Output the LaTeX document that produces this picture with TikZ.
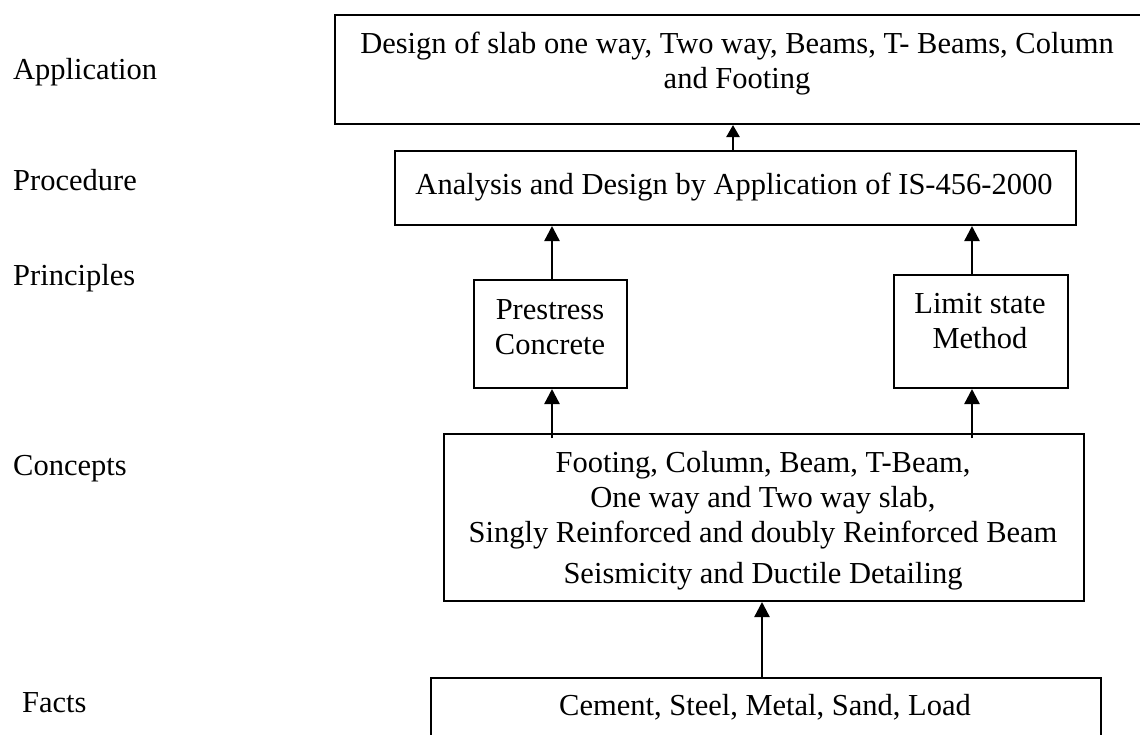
\documentclass[tikz,border=0pt]{standalone}
\usepackage{fontspec}
\setmainfont{Liberation Serif}
\usetikzlibrary{arrows.meta}
\tikzset{
  box/.style={draw, line width=2pt, inner sep=0pt, anchor=north west},
  txt/.style={inner sep=0pt, align=center, font=\fontsize{30.5}{35}\selectfont},
  lbl/.style={inner sep=0pt, anchor=base west, font=\fontsize{30.5}{35}\selectfont},
  arr/.style={line width=2.4pt, -{Triangle[length=15pt,width=15pt]}},
  arrs/.style={line width=2.4pt, -{Triangle[length=12pt,width=13pt]}}
}
\begin{document}
\begin{tikzpicture}[x=1pt,y=-1pt]
\useasboundingbox (0,0) rectangle (1140,734);
\clip (0,0) rectangle (1140,734);
% boxes
\node[box, minimum width=808pt, minimum height=109pt] (app) at (334,14) {};
\node[box, minimum width=681pt, minimum height=74pt] (proc) at (394,150) {};
\node[box, minimum width=153pt, minimum height=108pt] (pres) at (473,279) {};
\node[box, minimum width=174pt, minimum height=113pt] (lim) at (893,274) {};
\node[box, minimum width=640pt, minimum height=167pt] (cn) at (443,433) {};
\node[box, minimum width=670pt, minimum height=80pt] (fa) at (430,677) {};
% box texts (base anchor = baseline of last line)
\node[txt, anchor=base] (appt) at (737,88) {Design of slab one way, Two way, Beams, T- Beams, Column\\and Footing};
\node[txt, anchor=base] (proct) at (734,194) {Analysis and Design by Application of IS-456-2000};
\node[txt, anchor=base] (prest) at (550,354) {Prestress\\Concrete};
\node[txt, anchor=base] (limt) at (980,348) {Limit state\\Method};
\node[txt, anchor=base] (cnt) at (763,583) {Footing, Column, Beam, T-Beam,\\One way and Two way slab,\\Singly Reinforced and doubly Reinforced Beam\\[6pt]Seismicity and Ductile Detailing};
\node[txt, anchor=base] (fat) at (765,715) {Cement, Steel, Metal, Sand, Load};
% left labels
\node[lbl] (l1) at (13,79) {Application};
\node[lbl] (l2) at (13,190) {Procedure};
\node[lbl] (l3) at (13,285) {Principles};
\node[lbl] (l4) at (13,475) {Concepts};
\node[lbl] (l5) at (22,712) {Facts};
% connector x positions
\coordinate (xa) at (733,0);
\coordinate (xp) at (552,0);
\coordinate (xl) at (972,0);
\coordinate (xf) at (762,0);
% connectors
\draw[arrs] (proc.north -| xa) -- (app.south -| xa);
\draw[arr] (pres.north -| xp) -- (proc.south -| xp);
\draw[arr] (lim.north -| xl) -- (proc.south -| xl);
\draw[arr] ([yshift=-5pt]cn.north -| xp) -- (pres.south -| xp);
\draw[arr] ([yshift=-5pt]cn.north -| xl) -- (lim.south -| xl);
\draw[arr] (fa.north -| xf) -- (cn.south -| xf);
\end{tikzpicture}
\end{document}
